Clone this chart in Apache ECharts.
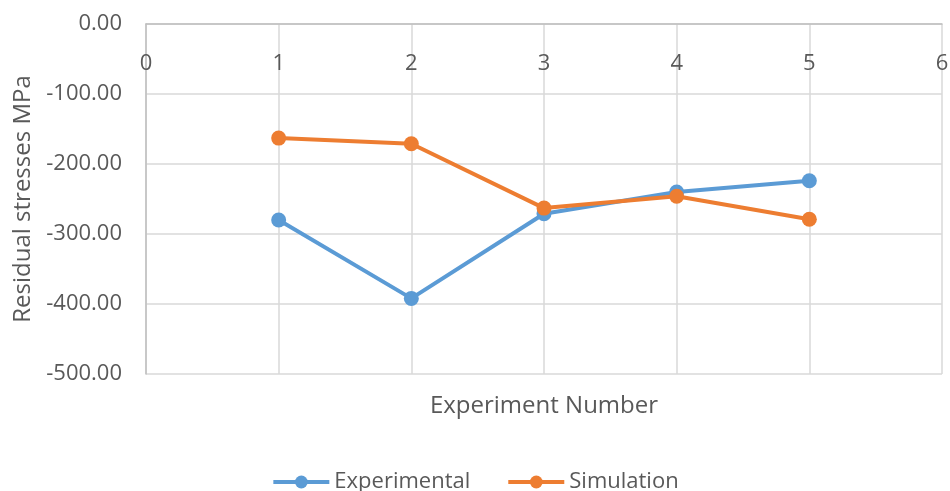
<!DOCTYPE html>
<html>
<head>
<meta charset="utf-8">
<script src="https://cdn.jsdelivr.net/npm/echarts@6/dist/echarts.min.js"></script>
<style>
  html, body { margin: 0; padding: 0; background: #fff; }
  #chart { width: 950px; height: 491px; }
</style>
</head>
<body>
<div id="chart"></div>
<script>
// experiment numbers and stress values
const experimentNo = [1, 2, 3, 4, 5];
const experimental = [-280, -392, -271, -240, -224];
const simulation = [-163, -171, -263, -246, -279];
const seriesNames = ['Experimental', 'Simulation'];

const textColor = '#595959';
const fontFamily = '"Open Sans", sans-serif';

const toPairs = (vals) => experimentNo.map((x, i) => [x, vals[i]]);

const chart = echarts.init(document.getElementById('chart'));

chart.setOption({
  animation: false,
  textStyle: { fontFamily: fontFamily },
  grid: {
    left: 146, right: 8, top: 24, bottom: 117,
    containLabel: false,
    outerBoundsMode: 'none'
  },
  legend: {
    data: seriesNames,
    top: 466,
    left: 'center',
    itemWidth: 56,
    itemHeight: 16,
    itemGap: 36,
    lineStyle: { width: 4 },
    textStyle: { fontSize: 22, color: textColor, fontFamily: fontFamily }
  },
  xAxis: [
    {
      type: 'value',
      position: 'top',
      min: 0,
      max: 6,
      interval: 1,
      axisLine: { show: true, onZero: false, lineStyle: { color: '#bfbfbf', width: 1.5 } },
      axisTick: { show: false },
      axisLabel: { inside: true, margin: 29, fontSize: 22, color: textColor },
      splitLine: { show: true, lineStyle: { color: '#d9d9d9', width: 1.5 } }
    },
    {
      type: 'value',
      position: 'bottom',
      min: 0,
      max: 6,
      axisLine: { show: false },
      axisTick: { show: false },
      axisLabel: { show: false },
      splitLine: { show: false },
      name: 'Experiment Number',
      nameLocation: 'middle',
      nameGap: 20,
      nameTextStyle: { fontSize: 24, color: textColor }
    }
  ],
  yAxis: {
    type: 'value',
    min: -500,
    max: 0,
    interval: 100,
    name: 'Residual stresses MPa',
    nameLocation: 'middle',
    nameGap: 110,
    nameTextStyle: { fontSize: 24, color: textColor },
    axisLine: { show: true, lineStyle: { color: '#bfbfbf', width: 1.5 } },
    axisTick: { show: false },
    axisLabel: {
      fontSize: 22,
      color: textColor,
      margin: 24,
      formatter: (v) => v.toFixed(2)
    },
    splitLine: { show: true, lineStyle: { color: '#d9d9d9', width: 1.5 } }
  },
  series: [
    {
      name: seriesNames[0],
      type: 'line',
      data: toPairs(experimental),
      symbol: 'circle',
      symbolSize: 15,
      lineStyle: { width: 4, color: '#5b9bd5' },
      itemStyle: { color: '#5b9bd5' }
    },
    {
      name: seriesNames[1],
      type: 'line',
      data: toPairs(simulation),
      symbol: 'circle',
      symbolSize: 15,
      lineStyle: { width: 4, color: '#ed7d31' },
      itemStyle: { color: '#ed7d31' }
    }
  ]
});
</script>
</body>
</html>
